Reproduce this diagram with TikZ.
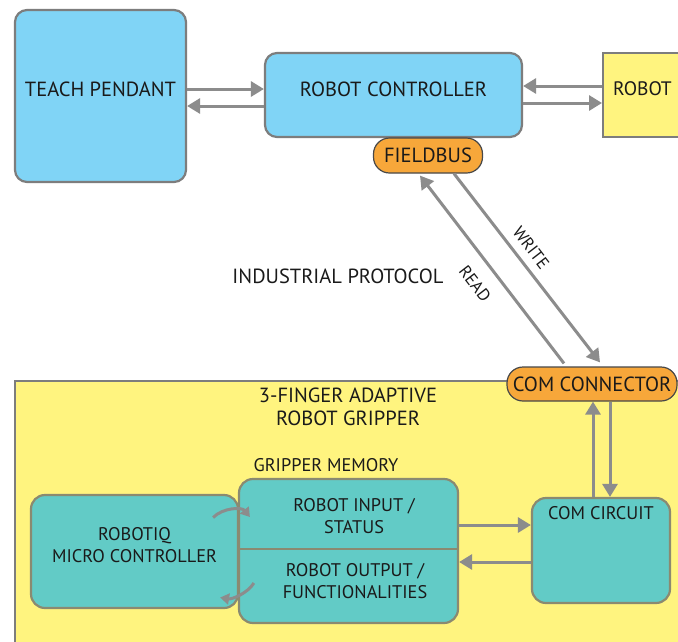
\documentclass[tikz,border=0pt]{standalone}
\usepackage{fontspec}
\setmainfont{PT Sans}
\usetikzlibrary{arrows.meta,calc}
\definecolor{cblue}{HTML}{80D4F6}
\definecolor{cyellow}{HTML}{FFF47F}
\definecolor{corange}{HTML}{F7A73A}
\definecolor{cteal}{HTML}{62CBC6}
\definecolor{cborder}{HTML}{7D7D7D}
\definecolor{carrow}{HTML}{8C8C8C}
\definecolor{ctext}{HTML}{1A1A1A}
\tikzset{
  every node/.style={text=ctext, font=\fontsize{20.5}{23}\selectfont, inner sep=0pt},
  small/.style={font=\fontsize{18.3}{22}\selectfont},
  tiny/.style={font=\fontsize{17}{20}\selectfont},
  bluebox/.style={draw=cborder, fill=cblue, line width=2.2pt, rounded corners=12pt},
  ybox/.style={draw=cborder, fill=cyellow, line width=2.2pt},
  pill/.style={draw=ctext!80, fill=corange, line width=1.2pt, rounded corners=16pt},
  tealbox/.style={draw=cborder!90!yellow, fill=cteal, line width=2.2pt, rounded corners=14pt},
  arr/.style={draw=carrow, line width=3pt, -{Triangle[length=13pt,width=15pt]}},
  carr/.style={draw=carrow, line width=3pt, -{Triangle[length=9pt,width=11pt]}},
}
\begin{document}
\begin{tikzpicture}[x=1pt,y=-1pt]
\clip (0,0) rectangle (678,641);
\fill[white] (0,0) rectangle (678,641);
% top row
\node[bluebox, minimum width=171, minimum height=172, text depth=14pt] (tp) at (100.5,96) {TEACH PENDANT};
\node[bluebox, minimum width=257, minimum height=84, text depth=12pt] (rc) at (393.5,95) {ROBOT CONTROLLER};
\node[ybox, anchor=west, minimum width=120, minimum height=84, text width=100, inner xsep=10, align=left, text depth=12pt] (robot) at (602,95) {\fontsize{19.5}{23}\selectfont ROBOT};
\node[pill, minimum width=109, minimum height=35] (fb) at (428,155.5) {FIELDBUS};
% arrows top
\draw[arr] ($(tp.east|-rc.west)+(0,-6)$) -- ($(rc.west)+(0,-6)$);
\draw[arr] ($(rc.west)+(0,11)$) -- ($(tp.east|-rc.west)+(0,11)$);
\draw[arr] ($(robot.west)+(0,-9)$) -- ($(rc.east|-robot.west)+(0,-9)$);
\draw[arr] ($(rc.east|-robot.west)+(0,8)$) -- ($(robot.west)+(0,8)$);
\node (ip) at (338,276) {INDUSTRIAL PROTOCOL};
% gripper
\node[ybox, anchor=north west, minimum width=700, minimum height=300] (grip) at (14,380) {};
\node[pill, minimum width=170, minimum height=34] (cc) at (592,384) {COM CONNECTOR};
\draw[arr] ($(cc.north)+(-28,-3)$) -- ($(fb.south)+(-8,2)$);
\draw[arr] ($(fb.south)+(26,0)$) -- ($(cc.north)+(8,-4)$);
\node[tiny, rotate=-52.5] (rd) at (475,284) {READ};
\node[tiny, rotate=-52.5] (wr) at (531,248) {WRITE};
\node[align=center] (gt) at (348,407) {3-FINGER ADAPTIVE\\ROBOT GRIPPER};
\node[small] (gm) at (326,465) {GRIPPER MEMORY};
\node[small, tealbox, minimum width=207, minimum height=113, align=center, text depth=14pt] (mc) at (134.5,551.5) {ROBOTIQ\\MICRO CONTROLLER};
\node[tealbox, minimum width=219, minimum height=144] (mem) at (348.5,551) {};
\draw[draw=cborder!90!yellow, line width=2.2pt] (mem.west|-0,549) -- (mem.east|-0,549);
\node[small, align=center] (min) at (354,516) {ROBOT INPUT /\\STATUS};
\node[small, align=center] (mout) at (355,581) {ROBOT OUTPUT /\\FUNCTIONALITIES};
\node[tealbox, minimum width=138, minimum height=105, label={[small, anchor=north, yshift=-9pt, inner sep=0pt]north:COM CIRCUIT}] (circ) at (601,550.5) {};
% gripper arrows
\draw[arr] ($(mem.east)+(0,-26)$) -- ($(circ.west|-mem.east)+(0,-26)$);
\draw[arr] ($(circ.west|-mem.east)+(0,11)$) -- ($(mem.east)+(0,11)$);
\draw[arr] ($(circ.north)+(-8,0)$) -- ($(circ.north|-cc.south)+(-8,0)$);
\draw[arr] ($(circ.north|-cc.south)+(9,0)$) -- ($(circ.north)+(9,0)$);
\draw[carr] ($(mc.east)+(-26,-34)$) .. controls +(10,-10) and +(-8,-10) .. ($(mem.west)+(12,-34)$);
\draw[carr] ($(mem.west)+(16,32)$) .. controls +(-6,10) and +(12,2) .. ($(mc.east)+(-19,46)$);
\end{tikzpicture}
\end{document}
